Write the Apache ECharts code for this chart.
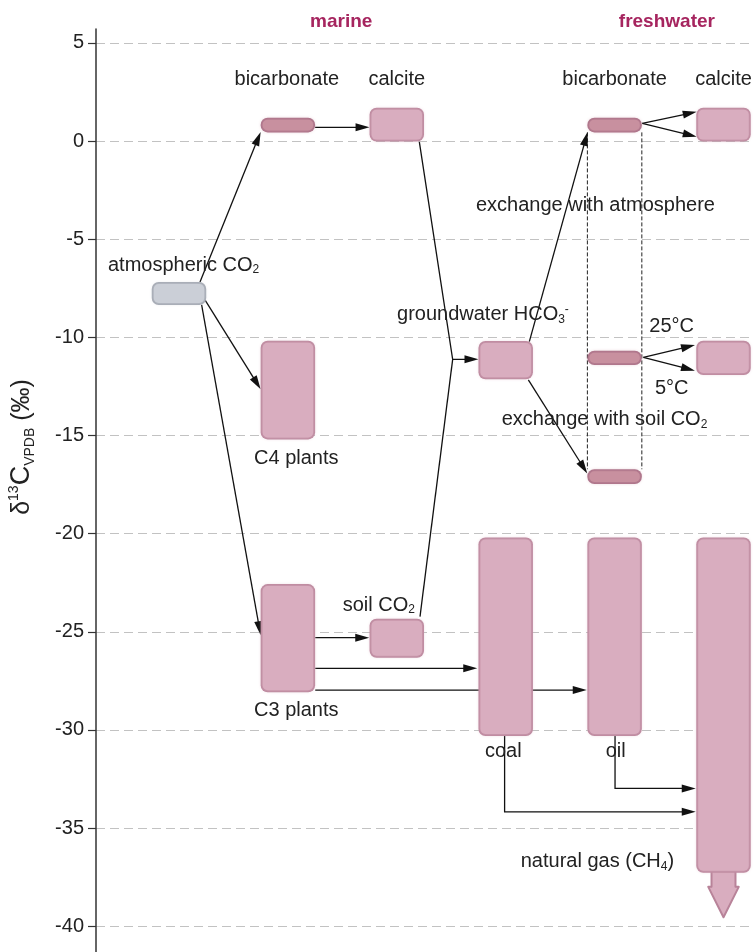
<!DOCTYPE html>
<html><head><meta charset="utf-8">
<script src="https://cdn.jsdelivr.net/npm/echarts@6/dist/echarts.min.js"></script>
<style>html,body{margin:0;padding:0;background:#fff}#c{width:754px;height:952px}</style>
</head><body><div id="c"></div>
<script>
// ---- data ----
const yTicks = [-40, -35, -30, -25, -20, -15, -10, -5, 0, 5];
const groupTitles = ['marine', 'freshwater'];
const groupTitleColumn = [1.49, 4.48];

// reservoirs: column index (0 = atmosphere), δ13C range (top, bottom) in ‰
const boxNames   = ['atmospheric CO2', 'marine bicarbonate', 'marine calcite', 'C4 plants', 'C3 plants', 'soil CO2',
                    'groundwater HCO3-', 'fw bicarbonate (atm)', 'fw calcite (atm)', 'fw bicarbonate', 'fw calcite',
                    'fw bicarbonate (soil)', 'coal', 'oil', 'natural gas'];
const boxColumn  = [0, 1, 2, 1, 1, 2, 3, 4, 5, 4, 5, 4, 3, 4, 5];
const boxTop     = [-7.18, 1.19, 1.70, -10.17, -22.57, -24.33, -10.19, 1.19, 1.70, -10.68, -10.17, -16.72, -20.19, -20.19, -20.19];
const boxBottom  = [-8.35, 0.44, -0.03, -15.20, -28.08, -26.32, -12.14, 0.44, -0.03, -11.41, -11.92, -17.47, -30.31, -30.31, -37.27];
const boxKind    = ['gray', 'dark', 'pink', 'pink', 'pink', 'pink', 'pink', 'dark', 'pink', 'dark', 'pink', 'dark', 'pink', 'pink', 'pink'];
const gasTailTip = -39.54;   // δ13C reached by the natural gas arrow tip
const gasTailNeck = -37.99;

// flow arrows: lists of [column, δ13C] points; last point is the arrow tip
const arrowPaths = [
  [[0.193, -7.18], [0.75, 0.46]],
  [[0.24, -8.10], [0.75, -12.65]],
  [[0.208, -8.35], [0.75, -25.17]],
  [[1.25, 0.70], [1.75, 0.70]],
  [[2.207, -0.04], [2.513, -11.12], [2.75, -11.12]],
  [[2.213, -24.23], [2.513, -11.12]],
  [[3.217, -10.22], [3.752, 0.46]],
  [[3.208, -12.17], [3.749, -16.93]],
  [[4.254, 0.90], [4.754, 1.49]],
  [[4.254, 0.90], [4.754, 0.22]],
  [[4.264, -11.02], [4.738, -10.39]],
  [[4.264, -11.02], [4.738, -11.70]],
  [[1.251, -25.30], [1.747, -25.30]],
  [[1.251, -26.86], [2.739, -26.86]],
  [[1.251, -27.97], [3.744, -27.97]],
  [[2.99, -30.31], [2.99, -34.17], [4.745, -34.17]],
  [[4.004, -30.31], [4.004, -32.98], [4.745, -32.98]]
];
const arrowHasHead = [true, true, true, true, true, false, true, true, true, true, true, true, true, true, true, true, true];

// dashed exchange bounds
const dashColumns = [3.75, 4.25];
const dashTop = 0.44, dashBottom = -16.72;

// text annotations: text, column, δ13C, alignment
const labelText = ['bicarbonate', 'calcite', 'bicarbonate', 'calcite', 'exchange with atmosphere', 'atmospheric CO{s|2}',
                   'groundwater HCO{s|3}{p|-}', '25°C', '5°C', 'exchange with soil CO{s|2}', 'C4 plants', 'soil CO{s|2}',
                   'C3 plants', 'coal', 'oil', 'natural gas (CH{s|4})'];
const labelCol   = [0.99, 2.0, 4.0, 5.0, 3.824, -0.652, 2.002, 4.524, 4.524, 2.963, 0.689, 1.503, 0.689, 2.978, 4.01, 3.138];
const labelVal   = [3.11, 3.11, 3.11, 3.11, -3.26, -6.32, -8.86, -9.46, -12.60, -14.21, -16.16, -23.64, -29.0, -31.11, -31.11, -36.71];
const labelAlign = ['center', 'center', 'center', 'center', 'center', 'left', 'left', 'center', 'center', 'left', 'left', 'left', 'left', 'center', 'center', 'left'];

// ---- styles ----
const FONT = '"Liberation Sans", Arial, Helvetica, sans-serif';
const kindStyle = {
  pink: {edge: '#b88399', fill: '#d9adbf'},
  dark: {edge: '#a86f86', fill: '#c8909f'},
  gray: {edge: '#9ea3ad', fill: '#cbcfd7'}
};
const HALF_W = 0.25;

const chart = echarts.init(document.getElementById('c'), null, {renderer: 'canvas'});

function renderBox(params, api) {
  const c = api.value(0), top = api.value(1), bot = api.value(2), i = api.value(3);
  const p1 = api.coord([c - HALF_W, top]);
  const p2 = api.coord([c + HALF_W, bot]);
  const w = p2[0] - p1[0], h = p2[1] - p1[1];
  const st = kindStyle[boxKind[i]];
  const r = Math.min(7, h / 2);
  const children = [];
  if (i === boxNames.length - 1) {
    const pts = [[c - 0.11, bot + 0.3], [c - 0.11, gasTailNeck], [c - 0.14, gasTailNeck], [c, gasTailTip],
                 [c + 0.14, gasTailNeck], [c + 0.11, gasTailNeck], [c + 0.11, bot + 0.3]].map(p => api.coord(p));
    children.push({type: 'polygon', shape: {points: pts}, style: {fill: st.fill, stroke: st.edge, lineWidth: 2, lineJoin: 'round'}});
  }
  children.push({type: 'rect', shape: {x: p1[0], y: p1[1], width: w, height: h, r: r}, style: {fill: st.edge}});
  children.push({type: 'rect', shape: {x: p1[0] + 2, y: p1[1] + 2, width: w - 4, height: h - 4, r: Math.max(1, r - 2)},
                 style: {fill: st.fill, shadowBlur: 4, shadowColor: st.fill}});
  return {type: 'group', children: children};
}

function renderArrow(params, api) {
  const i = api.value(0);
  const pts = arrowPaths[i].map(p => api.coord(p));
  const children = [];
  const n = pts.length;
  if (arrowHasHead[i]) {
    const a = pts[n - 2], b = pts[n - 1];
    const dx = b[0] - a[0], dy = b[1] - a[1];
    const len = Math.sqrt(dx * dx + dy * dy);
    const ux = dx / len, uy = dy / len;
    const L = 14, HW = 4;
    const base = [b[0] - ux * L, b[1] - uy * L];
    const line = pts.slice(0, n - 1).concat([[b[0] - ux * (L - 2), b[1] - uy * (L - 2)]]);
    children.push({type: 'polyline', shape: {points: line}, style: {stroke: '#111', lineWidth: 1.3, fill: null}});
    children.push({type: 'polygon', shape: {points: [b, [base[0] - uy * HW, base[1] + ux * HW], [base[0] + uy * HW, base[1] - ux * HW]]},
                   style: {fill: '#111'}});
  } else {
    children.push({type: 'polyline', shape: {points: pts}, style: {stroke: '#111', lineWidth: 1.3, fill: null}});
  }
  return {type: 'group', children: children};
}

function renderDash(params, api) {
  const c = api.value(0);
  const p1 = api.coord([c, dashTop]);
  const p2 = api.coord([c, dashBottom]);
  return {type: 'line', shape: {x1: p1[0], y1: p1[1], x2: p2[0], y2: p2[1]},
          style: {stroke: '#222', lineWidth: 1, lineDash: [4, 2]}};
}

const richSub = {
  s: {fontSize: 12, fontFamily: FONT, verticalAlign: 'bottom', lineHeight: 12, fill: '#222'},
  p: {fontSize: 12, fontFamily: FONT, verticalAlign: 'top', lineHeight: 12, fill: '#222'}
};

function renderLabel(params, api) {
  const i = api.value(0);
  const p = api.coord([labelCol[i], labelVal[i]]);
  return {type: 'text', x: p[0], y: p[1], z2: 10,
          style: {text: labelText[i], fontSize: 20, fontFamily: FONT, fill: '#222', align: labelAlign[i],
                  verticalAlign: 'middle', lineHeight: 22, rich: richSub}};
}

function renderTitle(params, api) {
  const i = api.value(0);
  const p = api.coord([groupTitleColumn[i], 6.06]);
  return {type: 'text', x: p[0], y: p[1],
          style: {text: groupTitles[i], fontSize: 19, fontWeight: 'bold', fontFamily: FONT, fill: '#a6255f',
                  align: 'center', verticalAlign: 'middle'}};
}

const option = {
  backgroundColor: '#fff',
  animation: false,
  grid: {left: 96, right: 0, top: 29, bottom: 0, containLabel: false},
  xAxis: {type: 'value', min: -0.762, max: 5.28, show: false},
  yAxis: {
    type: 'value', min: -41.31, max: 5.706, position: 'left',
    axisLine: {show: true, onZero: false, lineStyle: {color: '#333', width: 1.5}},
    axisTick: {show: true, length: 8, customValues: yTicks, lineStyle: {color: '#333', width: 1.2}},
    axisLabel: {show: true, customValues: yTicks, margin: 12, fontSize: 20, fontFamily: FONT, color: '#222'},
    splitLine: {show: true, lineStyle: {color: '#c2c2c2', width: 1, type: [9, 5]}}
  },
  graphic: [{
    type: 'text', x: 22, y: 447, rotation: Math.PI / 2,
    style: {
      text: '{d|δ}{sup|13}{c|C}{sub|VPDB}{d| (‰)}', align: 'center', verticalAlign: 'middle',
      rich: {
        d: {fontSize: 25, fontFamily: FONT, fill: '#222', lineHeight: 30},
        c: {fontSize: 27, fontFamily: FONT, fill: '#222', lineHeight: 30},
        sup: {fontSize: 14, fontFamily: FONT, fill: '#222', verticalAlign: 'top', lineHeight: 14},
        sub: {fontSize: 14, fontFamily: FONT, fill: '#222', verticalAlign: 'bottom', lineHeight: 14}
      }
    }
  }],
  series: [
    {type: 'custom', name: 'exchange bounds', renderItem: renderDash, clip: false,
     data: dashColumns.map(c => [c]), encode: {x: 0}, z: 2},
    {type: 'custom', name: 'flows', renderItem: renderArrow, clip: false,
     data: arrowPaths.map((p, i) => [i]), encode: {}, z: 3},
    {type: 'custom', name: 'reservoirs', renderItem: renderBox, clip: false,
     data: boxNames.map((n, i) => [boxColumn[i], boxTop[i], boxBottom[i], i]), encode: {x: 0, y: 1}, z: 4},
    {type: 'custom', name: 'labels', renderItem: renderLabel, clip: false,
     data: labelText.map((t, i) => [i]), encode: {}, z: 5},
    {type: 'custom', name: 'titles', renderItem: renderTitle, clip: false,
     data: groupTitles.map((t, i) => [i]), encode: {}, z: 5}
  ]
};
chart.setOption(option);
</script></body></html>
